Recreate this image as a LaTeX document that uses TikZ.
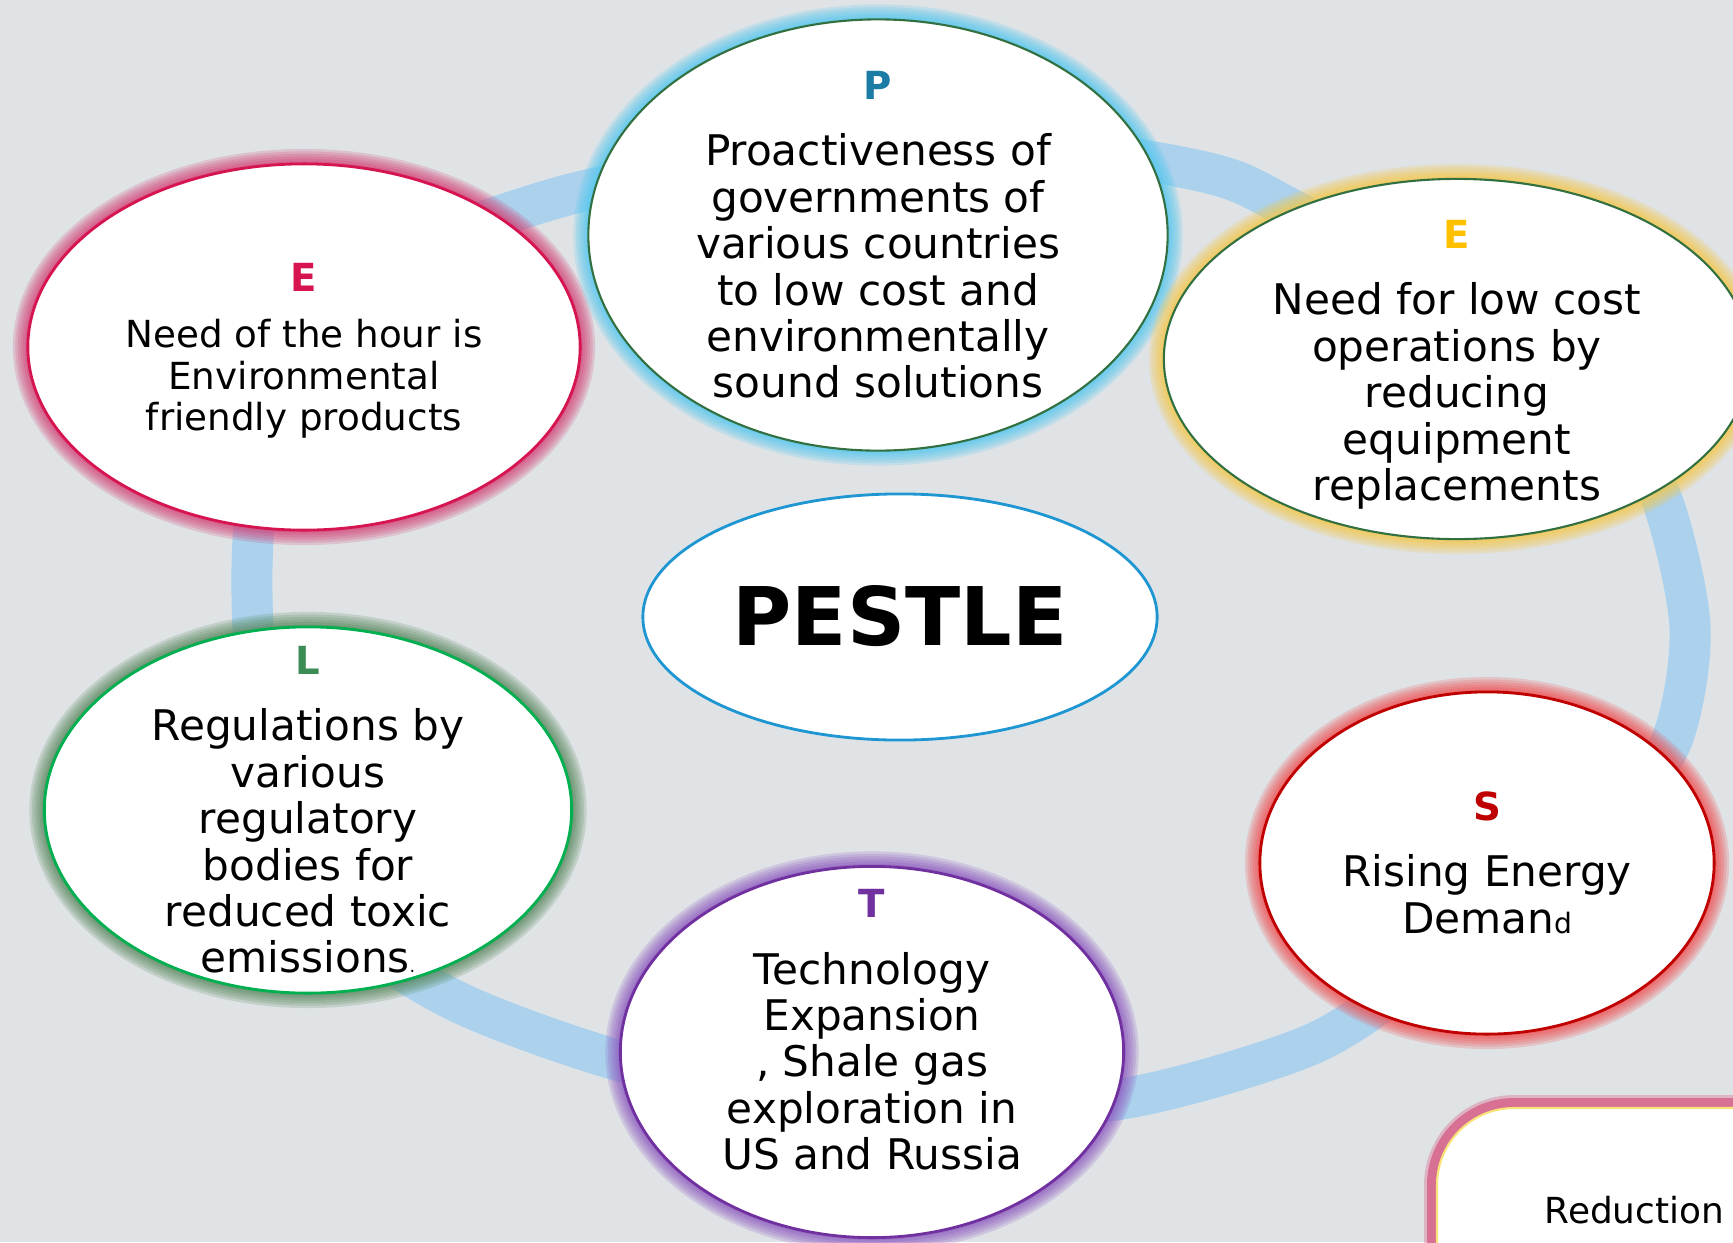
\documentclass[tikz,border=0pt]{standalone}
\usepackage{fontspec}
\setmainfont{DejaVu Sans}
\usetikzlibrary{shapes.geometric}
\definecolor{bgcol}{RGB}{223,227,230}
\definecolor{ringcol}{RGB}{171,209,237}
\definecolor{polcol}{RGB}{27,125,165}
\definecolor{polglow}{RGB}{80,200,238}
\definecolor{dkgreen}{RGB}{50,112,65}
\definecolor{envcol}{RGB}{214,20,80}
\definecolor{envglow}{RGB}{212,60,115}
\definecolor{ecocol}{RGB}{255,192,0}
\definecolor{ecoglow}{RGB}{245,200,70}
\definecolor{pestcol}{RGB}{30,150,210}
\definecolor{legcol}{RGB}{0,176,80}
\definecolor{legtxt}{RGB}{60,140,85}
\definecolor{legglow}{RGB}{85,135,90}
\definecolor{techcol}{RGB}{112,48,160}
\definecolor{techglow}{RGB}{140,85,190}
\definecolor{soccol}{RGB}{192,0,0}
\definecolor{socglow}{RGB}{240,75,75}
\definecolor{boxglow}{RGB}{215,95,135}
\definecolor{boxline}{RGB}{248,228,120}
\newcommand\pletter[2]{{\color{#1}\bfseries\fontsize{11}{13.2}\selectfont #2}}

\begin{document}
\begin{tikzpicture}[x=0.01cm, y=-0.01cm,
    bubble/.style = {shape=ellipse, fill=white, inner sep=0pt, line width=0.8pt},
    glow/.style = {preaction={draw=#1, line width=0.30cm, opacity=0.2},
                   preaction={draw=#1, line width=0.25cm, opacity=0.2},
                   preaction={draw=#1, line width=0.20cm, opacity=0.2},
                   preaction={draw=#1, line width=0.15cm, opacity=0.2},
                   preaction={draw=#1, line width=0.10cm, opacity=0.25},
                   preaction={draw=#1, line width=0.05cm, opacity=0.3}},
    boxglow/.style = {preaction={draw=#1, line width=0.26cm, opacity=0.35},
                      preaction={draw=#1, line width=0.20cm, opacity=0.8}},
    body/.style = {align=center, inner sep=0pt, font=\fontsize{12}{13.2}\selectfont},
    small/.style = {align=center, inner sep=0pt, font=\fontsize{10.6}{11.8}\selectfont}]
  \useasboundingbox (0,0) rectangle (1733,1242);
  \clip (0,0) rectangle (1733,1242);
  \fill[bgcol] (0,0) rectangle (1733,1242);

  \draw[ringcol, line width=0.41cm] plot[smooth cycle] coordinates {
    (253,540) (270,420) (330,320) (400,255) (560,197) (720,165) (900,148)
    (1080,152) (1220,176) (1300,214) (1460,300) (1610,410) (1662,500)
    (1690,627) (1673,737) (1620,815) (1520,905) (1420,975) (1310,1045)
    (1133,1097) (950,1112) (760,1094) (600,1055) (450,998) (340,920)
    (275,790) (255,660)};

  \node[bubble, draw=envcol, glow=envglow, minimum width=5.52cm, minimum height=3.66cm] (env) at (304,347) {};
  \node[small] (envtxt) at (304,351) {\pletter{envcol}{E}\\[4pt] Need of the hour is\\Environmental\\friendly products};

  \node[bubble, draw=dkgreen, line width=0.6pt, glow=polglow, minimum width=5.79cm, minimum height=4.31cm] (pol) at (878,235) {};
  \node[body] (poltxt) at (pol) {\pletter{polcol}{P}\\[5.6pt] Proactiveness of\\governments of\\various countries\\to low cost and\\environmentally\\sound solutions};

  \node[bubble, draw=dkgreen, line width=0.6pt, glow=ecoglow, minimum width=5.86cm, minimum height=3.60cm] (eco) at (1457,359) {};
  \node[body] (ecotxt) at (1457,365) {\pletter{ecocol}{E}\\[5.6pt] Need for low cost\\operations by\\reducing\\equipment\\replacements};

  \node[bubble, draw=soccol, glow=socglow, minimum width=4.54cm, minimum height=3.42cm] (soc) at (1487,863) {};
  \node[body] (soctxt) at (soc) {\pletter{soccol}{S}\\[5.6pt] Rising Energy\\Deman{\fontsize{8}{9}\selectfont d}};

  \node[bubble, draw=techcol, glow=techglow, minimum width=5.03cm, minimum height=3.71cm] (tech) at (872,1052) {};
  \node[body] (techtxt) at (872,1030) {\pletter{techcol}{T}\\[5.6pt] Technology\\Expansion\\, Shale gas\\exploration in\\US and Russia};

  \node[bubble, draw=legcol, glow=legglow, minimum width=5.27cm, minimum height=3.66cm] (leg) at (308,810) {};
  \node[body] (legtxt) at (leg) {\pletter{legtxt}{L}\\[5.6pt] Regulations by\\various\\regulatory\\bodies for\\reduced toxic\\emissions{\fontsize{5}{6}\selectfont .}};

  \node[bubble, draw=pestcol, minimum width=5.14cm, minimum height=2.46cm] (pest) at (900,617) {};
  \node[font=\bfseries\fontsize{23}{27}\selectfont, inner sep=0pt] (pesttxt) at (900,616) {PESTLE};

  \draw[boxglow=boxglow, draw=boxline, fill=white, line width=0.6pt, rounded corners=0.77cm] (1437,1108) rectangle (1850,1350);
  \node[anchor=base west, inner sep=0pt, font=\fontsize{10.2}{12}\selectfont] (redtxt) at (1544,1223) {Reduction};
\end{tikzpicture}
\end{document}
